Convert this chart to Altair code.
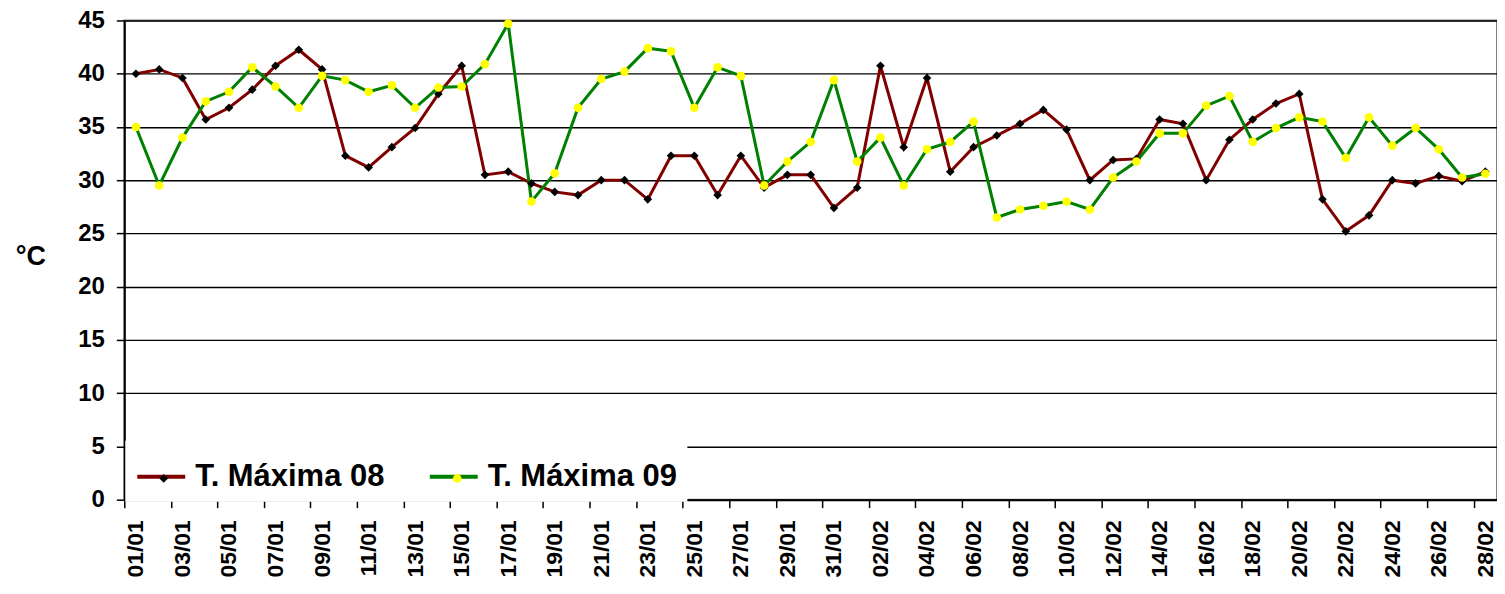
import json
import altair as alt
import pandas as pd

dates = [
    "01/01", "02/01", "03/01", "04/01", "05/01", "06/01", "07/01", "08/01", "09/01", "10/01",
    "11/01", "12/01", "13/01", "14/01", "15/01", "16/01", "17/01", "18/01", "19/01", "20/01",
    "21/01", "22/01", "23/01", "24/01", "25/01", "26/01", "27/01", "28/01", "29/01", "30/01",
    "31/01", "01/02", "02/02", "03/02", "04/02", "05/02", "06/02", "07/02", "08/02", "09/02",
    "10/02", "11/02", "12/02", "13/02", "14/02", "15/02", "16/02", "17/02", "18/02", "19/02",
    "20/02", "21/02", "22/02", "23/02", "24/02", "25/02", "26/02", "27/02", "28/02",
]

t_max_08 = [
    40.0, 40.4, 39.6, 35.7, 36.8, 38.5, 40.75, 42.25, 40.4, 32.3,
    31.2, 33.1, 34.9, 38.1, 40.75, 30.5, 30.8, 29.7, 28.9, 28.6,
    30.0, 30.0, 28.2, 32.3, 32.3, 28.6, 32.3, 29.3, 30.5, 30.5,
    27.4, 29.3, 40.75, 33.1, 39.6, 30.8, 33.1, 34.2, 35.3, 36.6,
    34.75, 30.0, 31.9, 32.0, 35.7, 35.3, 30.0, 33.8, 35.7, 37.2,
    38.1, 28.2, 25.2, 26.7, 30.0, 29.7, 30.4, 29.9, 30.8,
]

t_max_09 = [
    35.0, 29.5, 34.0, 37.4, 38.3, 40.6, 38.8, 36.8, 39.8, 39.4,
    38.3, 38.9, 36.8, 38.7, 38.8, 40.9, 44.7, 28.0, 30.65, 36.8,
    39.5, 40.2, 42.4, 42.1, 36.8, 40.6, 39.8, 29.5, 31.75, 33.6,
    39.4, 31.75, 34.0, 29.5, 32.9, 33.6, 35.5, 26.5, 27.25, 27.6,
    28.0, 27.25, 30.25, 31.75, 34.4, 34.4, 37.0, 37.9, 33.6, 34.9,
    35.9, 35.5, 32.1, 35.9, 33.25, 34.9, 32.9, 30.25, 30.6,
]

series_names = ["T. Máxima 08", "T. Máxima 09"]
series_keys = ["08", "09"]
line_colors = ["#800000", "#008000"]
marker_fills = ["#000000", "#FFFF00"]
marker_shapes = ["diamond", "circle"]
y_ticks = [0, 5, 10, 15, 20, 25, 30, 35, 40, 45]

n = len(dates)
df = pd.DataFrame({
    "idx": list(range(n)) * 2,
    "fecha": dates * 2,
    "serie": [series_names[0]] * n + [series_names[1]] * n,
    "clave": [series_keys[0]] * n + [series_keys[1]] * n,
    "temp": t_max_08 + t_max_09,
})

FONT = "Liberation Sans"
x_scale = alt.Scale(domain=[-0.5, n - 0.5], nice=False, zero=False)
y_scale = alt.Scale(domain=[0, 45], nice=False)

y_enc = alt.Y(
    "temp:Q", scale=y_scale,
    axis=alt.Axis(
        values=y_ticks, title="°C", titleAngle=0, titleX=-94, titleY=236,
        titleAlign="center", titleBaseline="middle", titleFont=FONT,
        titleFontSize=27, titleFontWeight="bold", titleColor="black",
        labelFont=FONT, labelFontSize=24, labelFontWeight="bold", labelColor="black",
        labelPadding=12, tickSize=8, tickColor="black", tickWidth=1.5,
        domainColor="black", domainWidth=2, grid=True, gridColor="black",
        gridWidth=1.4,
    ),
)

x_label_axis = alt.Axis(
    values=list(range(0, n, 2)),
    labelExpr=json.dumps(dates) + "[datum.value]",
    labelAngle=270, labelAlign="right", labelBaseline="middle",
    labelFont=FONT, labelFontSize=23, labelFontWeight="bold", labelColor="black",
    labelPadding=20, ticks=False, tickSize=0, grid=False, title=None,
    domainColor="black", domainWidth=2, orient="bottom", labelOverlap=False,
)
x_tick_axis = alt.Axis(
    values=[v - 0.5 for v in range(0, n, 2)], labels=False, ticks=True,
    tickSize=8, tickColor="black", tickWidth=1.5, domain=False, grid=False,
    title=None, orient="bottom",
)

legend_lines = alt.Legend(
    title=None, orient="none", direction="horizontal", legendX=1, legendY=421,
    symbolType="stroke", symbolSize=2304, symbolStrokeWidth=4,
    labelFont=FONT, labelFontSize=31, labelFontWeight="bold", labelColor="black",
    labelLimit=500, labelOffset=8, columnPadding=37, fillColor="white",
    padding=10, zindex=0,
)
legend_marks = alt.Legend(
    title=None, orient="none", direction="horizontal", legendX=14, legendY=433,
    symbolSize=75, symbolStrokeWidth=0,
    labelExpr="datum.label == '08' ? 'T. Máxima 08' : 'T. Máxima 09'",
    labelFont=FONT, labelFontSize=31, labelFontWeight="bold", labelOpacity=0,
    labelLimit=500, labelOffset=36, columnPadding=37, padding=10, zindex=1,
)

lines = alt.Chart(df).mark_line(strokeWidth=3).encode(
    x=alt.X("idx:Q", scale=x_scale, axis=x_label_axis),
    y=y_enc,
    color=alt.Color("serie:N", scale=alt.Scale(domain=series_names, range=line_colors),
                    legend=legend_lines),
)

points = alt.Chart(df).mark_point(filled=True, size=75, opacity=1, strokeWidth=0).encode(
    x=alt.X("idx:Q", scale=x_scale, axis=x_tick_axis),
    y=y_enc,
    shape=alt.Shape("clave:N", scale=alt.Scale(domain=series_keys, range=marker_shapes),
                    legend=legend_marks),
    fill=alt.Fill("clave:N", scale=alt.Scale(domain=series_keys, range=marker_fills),
                  legend=legend_marks),
)

chart = alt.layer(lines, points).resolve_axis(x="independent").properties(
    width=1375, height=480,
    autosize=alt.AutoSizeParams(type="none"),
    padding={"left": 116.5, "top": 12, "right": 0, "bottom": 84},
    background="white",
).configure_view(stroke="#808080", strokeWidth=2)

chart.save("out.html", embed_options={"renderer": "svg", "actions": False})
